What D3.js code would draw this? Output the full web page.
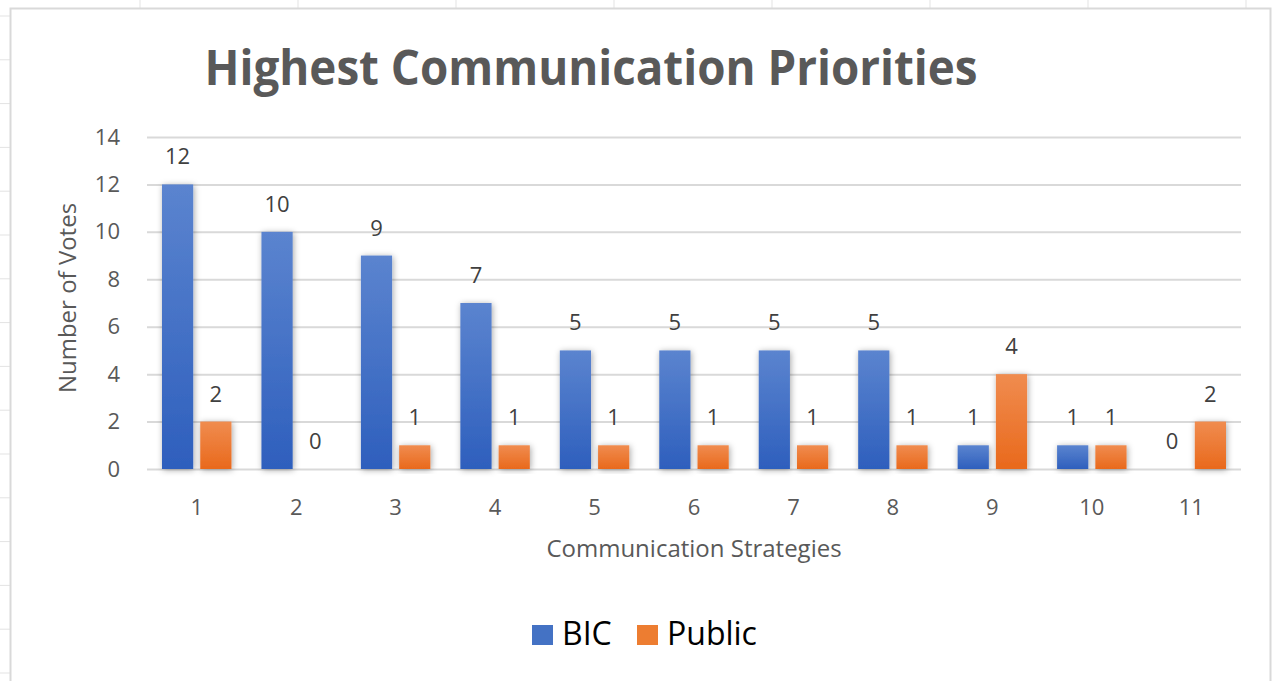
<!DOCTYPE html>
<html>
<head>
<meta charset="utf-8">
<script src="https://cdn.jsdelivr.net/npm/d3@7"></script>
<style>
  html, body { margin: 0; padding: 0; background: #fff; }
  svg { display: block; font-family: "Open Sans", Lato, sans-serif; }
</style>
</head>
<body>
<div id="chart"></div>
<script>
// chart data
var categories = ["1", "2", "3", "4", "5", "6", "7", "8", "9", "10", "11"];
var seriesNames = ["BIC", "Public"];
var bicVotes = [12, 10, 9, 7, 5, 5, 5, 5, 1, 1, 0];
var publicVotes = [2, 0, 1, 1, 1, 1, 1, 1, 4, 1, 2];
var yTicks = [0, 2, 4, 6, 8, 10, 12, 14];

var W = 1273, H = 681;
var plot = {left: 147, right: 1241, top: 137, bottom: 469};

var svg = d3.select("#chart").append("svg")
  .attr("width", W)
  .attr("height", H);

var defs = svg.append("defs");

// bar gradients, lighter at the top like the excel preset
function addGradient(id, top, bottom) {
  var g = defs.append("linearGradient")
    .attr("id", id)
    .attr("x1", 0).attr("y1", 0).attr("x2", 0).attr("y2", 1);
  g.append("stop").attr("offset", "0%").attr("stop-color", top);
  g.append("stop").attr("offset", "100%").attr("stop-color", bottom);
}
addGradient("gradBIC", "#5b84cf", "#2e5fbd");
addGradient("gradPublic", "#f08c4f", "#e9691c");

var shadow = defs.append("filter")
  .attr("id", "barShadow")
  .attr("x", "-50%").attr("y", "-20%")
  .attr("width", "200%").attr("height", "140%");
shadow.append("feDropShadow")
  .attr("dx", 1).attr("dy", 1)
  .attr("stdDeviation", 3)
  .attr("flood-color", "#000")
  .attr("flood-opacity", 0.35);

// spreadsheet cells behind the chart object
var sheet = svg.append("g").attr("stroke", "#e3e3e3").attr("stroke-width", 1);
sheet.selectAll(".col")
  .data(d3.range(140, W, 158))
  .enter().append("line")
  .attr("x1", function(d) { return d; }).attr("x2", function(d) { return d; })
  .attr("y1", 0).attr("y2", 9);
sheet.selectAll(".row")
  .data(d3.range(16, H, 43.8))
  .enter().append("line")
  .attr("x1", 0).attr("x2", 10)
  .attr("y1", function(d) { return d; }).attr("y2", function(d) { return d; });

// chart area
svg.append("rect")
  .attr("x", 10.5).attr("y", 8.5)
  .attr("width", 1260).attr("height", 700)
  .attr("fill", "#fff")
  .attr("stroke", "#d9d9d9")
  .attr("stroke-width", 2);

// scales
var xScale = d3.scaleBand()
  .domain(categories)
  .range([plot.left, plot.right])
  .padding(0);

var xInner = d3.scaleBand()
  .domain(seriesNames)
  .range([15, xScale.bandwidth() - 15])
  .paddingInner(7 / 38);

var yScale = d3.scaleLinear()
  .domain([0, 14])
  .range([plot.bottom, plot.top]);

var colors = d3.scaleOrdinal()
  .domain(seriesNames)
  .range(["url(#gradBIC)", "url(#gradPublic)"]);

var legendColors = d3.scaleOrdinal()
  .domain(seriesNames)
  .range(["#4472c4", "#ed7d31"]);

// gridlines
svg.append("g")
  .attr("transform", "translate(" + plot.left + ",0)")
  .call(d3.axisLeft(yScale).tickValues(yTicks).tickSize(-(plot.right - plot.left)).tickFormat(""))
  .call(function(g) { g.select(".domain").remove(); })
  .selectAll("line")
  .attr("stroke", "#d9d9d9")
  .attr("stroke-width", 2);

// y tick labels
svg.append("g")
  .attr("transform", "translate(" + (plot.left - 27) + ",0)")
  .call(d3.axisLeft(yScale).tickValues(yTicks).tickSize(0).tickPadding(0))
  .call(function(g) { g.select(".domain").remove(); })
  .selectAll("text")
  .attr("fill", "#595959")
  .attr("font-family", "'Open Sans', sans-serif")
  .style("font-size", "22px");

// x tick labels
svg.append("g")
  .attr("transform", "translate(0," + plot.bottom + ")")
  .call(d3.axisBottom(xScale).tickSize(0).tickPadding(30))
  .call(function(g) { g.select(".domain").remove(); })
  .selectAll("text")
  .attr("fill", "#595959")
  .attr("font-family", "'Open Sans', sans-serif")
  .style("font-size", "22px");

// bars
var rows = categories.map(function(c, i) {
  return {cat: c, values: [
    {name: "BIC", value: bicVotes[i]},
    {name: "Public", value: publicVotes[i]}
  ]};
});

var groups = svg.selectAll(".cat")
  .data(rows)
  .enter().append("g")
  .attr("class", "cat")
  .attr("transform", function(d) { return "translate(" + xScale(d.cat) + ",0)"; });

groups.selectAll("rect")
  .data(function(d) { return d.values.filter(function(v) { return v.value > 0; }); })
  .enter().append("rect")
  .attr("x", function(d) { return xInner(d.name); })
  .attr("y", function(d) { return yScale(d.value); })
  .attr("width", xInner.bandwidth())
  .attr("height", function(d) { return yScale(0) - yScale(d.value); })
  .attr("fill", function(d) { return colors(d.name); })
  .attr("filter", "url(#barShadow)");

// value labels
groups.selectAll("text")
  .data(function(d) { return d.values; })
  .enter().append("text")
  .attr("x", function(d) { return xInner(d.name) + xInner.bandwidth() / 2; })
  .attr("y", function(d) { return yScale(d.value) - 20; })
  .attr("text-anchor", "middle")
  .attr("fill", "#404040")
  .style("font-size", "22px")
  .text(function(d) { return d.value; });

// title
svg.append("text")
  .attr("x", 591)
  .attr("y", 85)
  .attr("text-anchor", "middle")
  .attr("fill", "#595959")
  .attr("font-weight", "bold")
  .attr("textLength", 773)
  .attr("lengthAdjust", "spacingAndGlyphs")
  .style("font-size", "48px")
  .text("Highest Communication Priorities");

// axis titles
svg.append("text")
  .attr("transform", "translate(76,298) rotate(-90)")
  .attr("text-anchor", "middle")
  .attr("fill", "#595959")
  .style("font-size", "24px")
  .text("Number of Votes");

svg.append("text")
  .attr("x", (plot.left + plot.right) / 2)
  .attr("y", 557)
  .attr("text-anchor", "middle")
  .attr("fill", "#595959")
  .style("font-size", "24px")
  .text("Communication Strategies");

// legend
var legend = svg.selectAll(".legend")
  .data(seriesNames)
  .enter().append("g")
  .attr("class", "legend")
  .attr("transform", function(d, i) { return "translate(" + (532 + i * 105) + ",0)"; });

legend.append("rect")
  .attr("x", 0).attr("y", 625)
  .attr("width", 21).attr("height", 20)
  .attr("fill", function(d) { return legendColors(d); });

legend.append("text")
  .attr("x", 30)
  .attr("y", 645)
  .attr("fill", "#000")
  .style("font-size", "32px")
  .text(function(d) { return d; });
</script>
</body>
</html>
